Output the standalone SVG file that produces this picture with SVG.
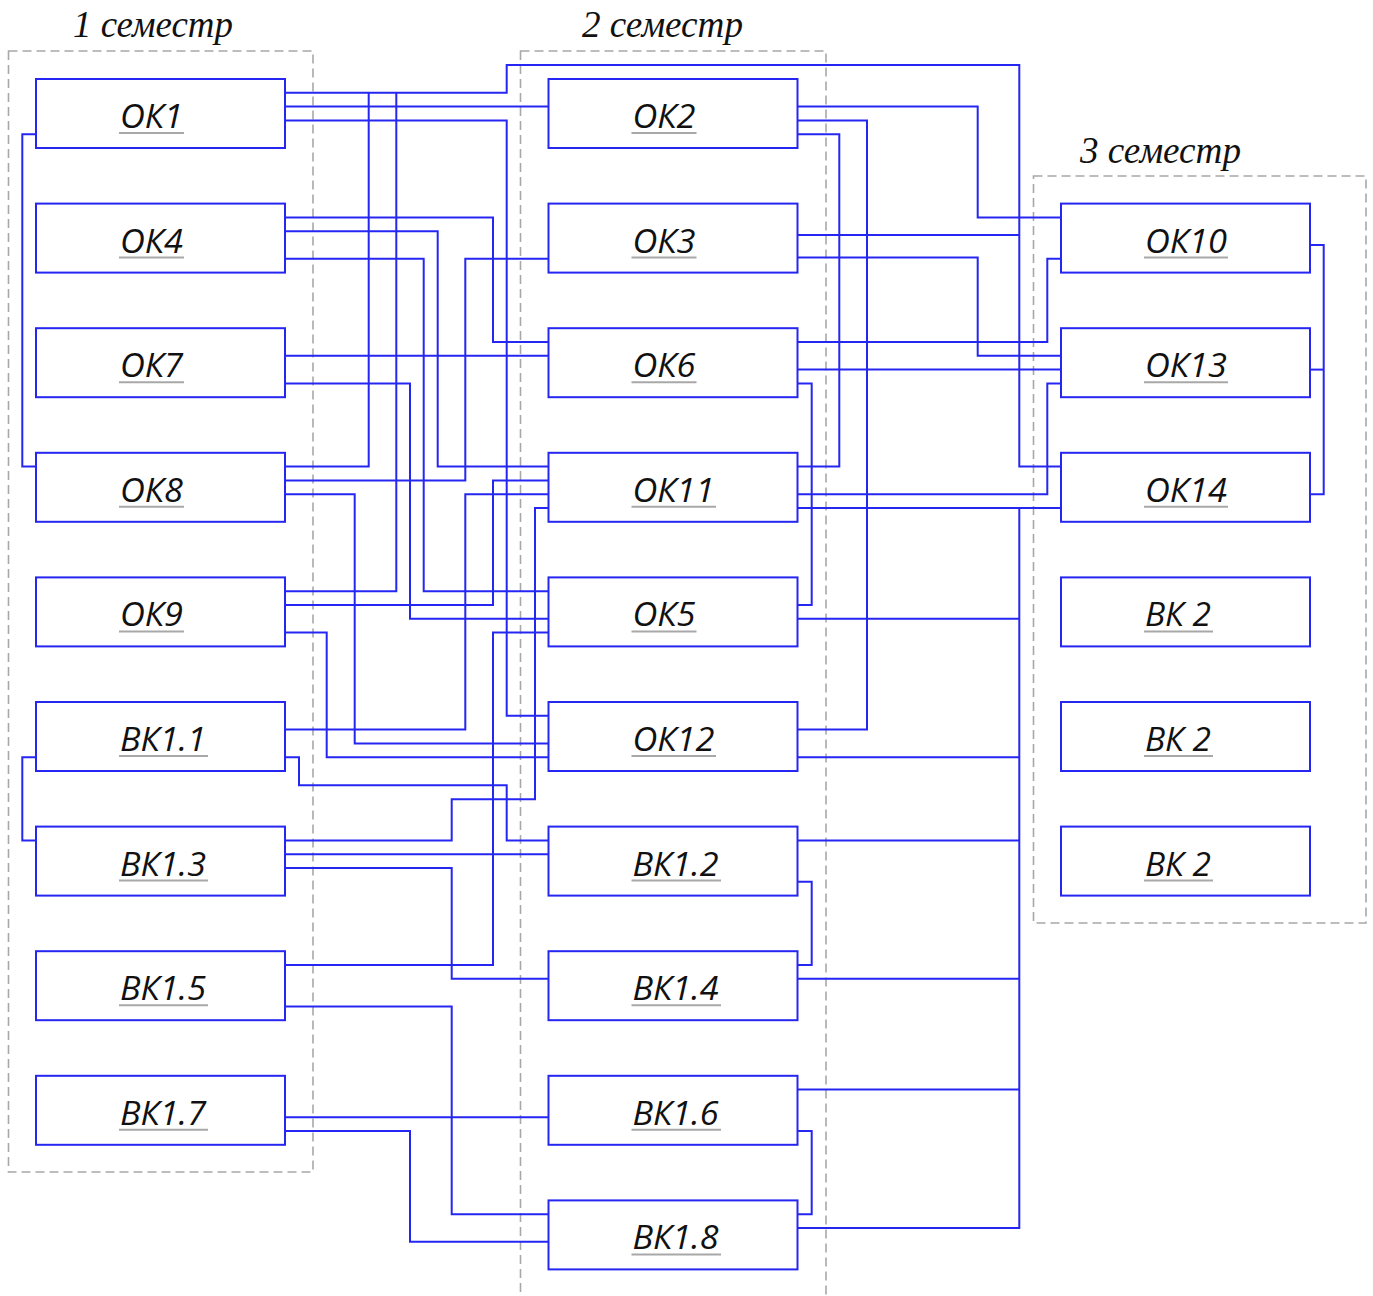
<svg xmlns="http://www.w3.org/2000/svg" width="1373" height="1296" viewBox="0 0 1373 1296">
<style>
.grp{fill:none;stroke:#a8a8a8;stroke-width:1.6;stroke-dasharray:9 5}
.ttl{font-family:"Liberation Serif",serif;font-style:italic;font-size:37px;fill:#111}
.box{fill:#fff;stroke:#2626f2;stroke-width:2}
.lbl{font-family:"Open Sans","Noto Sans",sans-serif;font-style:italic;font-size:32px;fill:#111}
.ul{stroke:#a8a8a8;stroke-width:2}
.wire{fill:none;stroke:#2626f2;stroke-width:2}
</style>
<rect fill="#fff" x="0" y="0" width="1373" height="1296"/>
<g id="groups">
<rect class="grp" x="8.5" y="51" width="304.5" height="1121"/>
<rect class="grp" x="520.5" y="51" width="305.5" height="1260"/>
<rect class="grp" x="1033.5" y="176" width="332.5" height="747"/>
<text class="ttl" x="73" y="37" textLength="160" lengthAdjust="spacingAndGlyphs">1 семестр</text>
<text class="ttl" x="582" y="37" textLength="161" lengthAdjust="spacingAndGlyphs">2 семестр</text>
<text class="ttl" x="1080" y="163" textLength="161" lengthAdjust="spacingAndGlyphs">3 семестр</text>
</g>
<g id="connectors" class="wire">
<path d="M36,134.2 H22.3 V466.6 H36"/>
<path d="M36,757.2 H22.3 V840.4 H36"/>
<path d="M285,92.8 H506.7 V65 H1019.3 V466.6 H1061"/>
<path d="M285,466.6 H368.7 V92.8"/>
<path d="M285,591.2 H396.3 V92.8"/>
<path d="M797.5,235 H1019.3"/>
<path d="M285,106.6 H548.5"/>
<path d="M285,120.4 H506.7 V715.8 H548.5"/>
<path d="M285,217.4 H493 V342 H548.5"/>
<path d="M285,231.2 H437.7 V466.6 H548.5"/>
<path d="M285,258.8 H423.7 V591.2 H548.5"/>
<path d="M285,355.8 H548.5"/>
<path d="M285,383.4 H410 V618.8 H548.5"/>
<path d="M285,480.4 H465.3 V258.8 H548.5"/>
<path d="M285,494.2 H354.7 V743.4 H548.5"/>
<path d="M285,605 H493 V480.4 H548.5"/>
<path d="M285,632.6 H326.7 V757.2 H548.5"/>
<path d="M285,729.6 H465.3 V494.2 H548.5"/>
<path d="M285,757.2 H299 V785.3 H506.7 V840.4 H548.5"/>
<path d="M285,840.4 H451.7 V799.3 H535 V508 H548.5"/>
<path d="M285,854.2 H548.5"/>
<path d="M285,868 H451.7 V978.8 H548.5"/>
<path d="M285,965 H493 V632.6 H548.5"/>
<path d="M285,1006.4 H451.7 V1214.2 H548.5"/>
<path d="M285,1117.2 H548.5"/>
<path d="M285,1131 H410 V1241.8 H548.5"/>
<path d="M797.5,106.6 H977.7 V217.4 H1061"/>
<path d="M797.5,120.4 H867 V729.6 H797.5"/>
<path d="M797.5,134.2 H839.3 V466.6 H797.5"/>
<path d="M797.5,257.5 H977.7 V355.8 H1061"/>
<path d="M797.5,342 H1047.3 V258.8 H1061"/>
<path d="M797.5,369.6 H1061"/>
<path d="M797.5,383.4 H811.7 V605 H797.5"/>
<path d="M797.5,494.2 H1047.3 V383.4 H1061"/>
<path d="M797.5,508 H1061"/>
<path d="M1019.3,508 V1228 H797.5"/>
<path d="M797.5,618.8 H1019.3"/>
<path d="M797.5,757.2 H1019.3"/>
<path d="M797.5,840.4 H1019.3"/>
<path d="M797.5,881.8 H811.7 V965 H797.5"/>
<path d="M797.5,978.8 H1019.3"/>
<path d="M797.5,1089.6 H1019.3"/>
<path d="M797.5,1131 H811.7 V1214.2 H797.5"/>
<path d="M1310,245 H1323.7 V494.2 H1310"/>
<path d="M1310,369.6 H1323.7"/>
</g>
<g id="ok1"><rect class="box" x="36" y="79" width="249" height="69"/><text class="lbl" x="120" y="128" textLength="63" lengthAdjust="spacingAndGlyphs">ОК1</text><line class="ul" x1="119" y1="133" x2="184" y2="133"/></g>
<g id="ok4"><rect class="box" x="36" y="203.6" width="249" height="69"/><text class="lbl" x="120" y="252.6" textLength="63" lengthAdjust="spacingAndGlyphs">ОК4</text><line class="ul" x1="119" y1="257.6" x2="184" y2="257.6"/></g>
<g id="ok7"><rect class="box" x="36" y="328.2" width="249" height="69"/><text class="lbl" x="120" y="377.2" textLength="63" lengthAdjust="spacingAndGlyphs">ОК7</text><line class="ul" x1="119" y1="382.2" x2="184" y2="382.2"/></g>
<g id="ok8"><rect class="box" x="36" y="452.8" width="249" height="69"/><text class="lbl" x="120" y="501.8" textLength="63" lengthAdjust="spacingAndGlyphs">ОК8</text><line class="ul" x1="119" y1="506.8" x2="184" y2="506.8"/></g>
<g id="ok9"><rect class="box" x="36" y="577.4" width="249" height="69"/><text class="lbl" x="120" y="626.4" textLength="63" lengthAdjust="spacingAndGlyphs">ОК9</text><line class="ul" x1="119" y1="631.4" x2="184" y2="631.4"/></g>
<g id="vk1_1"><rect class="box" x="36" y="702" width="249" height="69"/><text class="lbl" x="120" y="751" textLength="86" lengthAdjust="spacingAndGlyphs">ВК1.1</text><line class="ul" x1="119" y1="756" x2="208" y2="756"/></g>
<g id="vk1_3"><rect class="box" x="36" y="826.6" width="249" height="69"/><text class="lbl" x="120" y="875.6" textLength="86" lengthAdjust="spacingAndGlyphs">ВК1.3</text><line class="ul" x1="119" y1="880.6" x2="208" y2="880.6"/></g>
<g id="vk1_5"><rect class="box" x="36" y="951.2" width="249" height="69"/><text class="lbl" x="120" y="1000.2" textLength="86" lengthAdjust="spacingAndGlyphs">ВК1.5</text><line class="ul" x1="119" y1="1005.2" x2="208" y2="1005.2"/></g>
<g id="vk1_7"><rect class="box" x="36" y="1075.8" width="249" height="69"/><text class="lbl" x="120" y="1124.8" textLength="86" lengthAdjust="spacingAndGlyphs">ВК1.7</text><line class="ul" x1="119" y1="1129.8" x2="208" y2="1129.8"/></g>
<g id="ok2"><rect class="box" x="548.5" y="79" width="249" height="69"/><text class="lbl" x="632.5" y="128" textLength="63" lengthAdjust="spacingAndGlyphs">ОК2</text><line class="ul" x1="631.5" y1="133" x2="696.5" y2="133"/></g>
<g id="ok3"><rect class="box" x="548.5" y="203.6" width="249" height="69"/><text class="lbl" x="632.5" y="252.6" textLength="63" lengthAdjust="spacingAndGlyphs">ОК3</text><line class="ul" x1="631.5" y1="257.6" x2="696.5" y2="257.6"/></g>
<g id="ok6"><rect class="box" x="548.5" y="328.2" width="249" height="69"/><text class="lbl" x="632.5" y="377.2" textLength="63" lengthAdjust="spacingAndGlyphs">ОК6</text><line class="ul" x1="631.5" y1="382.2" x2="696.5" y2="382.2"/></g>
<g id="ok11"><rect class="box" x="548.5" y="452.8" width="249" height="69"/><text class="lbl" x="632.5" y="501.8" textLength="82" lengthAdjust="spacingAndGlyphs">ОК11</text><line class="ul" x1="631.5" y1="506.8" x2="716" y2="506.8"/></g>
<g id="ok5"><rect class="box" x="548.5" y="577.4" width="249" height="69"/><text class="lbl" x="632.5" y="626.4" textLength="63" lengthAdjust="spacingAndGlyphs">ОК5</text><line class="ul" x1="631.5" y1="631.4" x2="696.5" y2="631.4"/></g>
<g id="ok12"><rect class="box" x="548.5" y="702" width="249" height="69"/><text class="lbl" x="632.5" y="751" textLength="82" lengthAdjust="spacingAndGlyphs">ОК12</text><line class="ul" x1="631.5" y1="756" x2="716" y2="756"/></g>
<g id="vk1_2"><rect class="box" x="548.5" y="826.6" width="249" height="69"/><text class="lbl" x="632.5" y="875.6" textLength="86" lengthAdjust="spacingAndGlyphs">ВК1.2</text><line class="ul" x1="631.5" y1="880.6" x2="721" y2="880.6"/></g>
<g id="vk1_4"><rect class="box" x="548.5" y="951.2" width="249" height="69"/><text class="lbl" x="632.5" y="1000.2" textLength="86" lengthAdjust="spacingAndGlyphs">ВК1.4</text><line class="ul" x1="631.5" y1="1005.2" x2="721" y2="1005.2"/></g>
<g id="vk1_6"><rect class="box" x="548.5" y="1075.8" width="249" height="69"/><text class="lbl" x="632.5" y="1124.8" textLength="86" lengthAdjust="spacingAndGlyphs">ВК1.6</text><line class="ul" x1="631.5" y1="1129.8" x2="721" y2="1129.8"/></g>
<g id="vk1_8"><rect class="box" x="548.5" y="1200.4" width="249" height="69"/><text class="lbl" x="632.5" y="1249.4" textLength="86" lengthAdjust="spacingAndGlyphs">ВК1.8</text><line class="ul" x1="631.5" y1="1254.4" x2="721" y2="1254.4"/></g>
<g id="ok10"><rect class="box" x="1061" y="203.6" width="249" height="69"/><text class="lbl" x="1145" y="252.6" textLength="82" lengthAdjust="spacingAndGlyphs">ОК10</text><line class="ul" x1="1144" y1="257.6" x2="1228" y2="257.6"/></g>
<g id="ok13"><rect class="box" x="1061" y="328.2" width="249" height="69"/><text class="lbl" x="1145" y="377.2" textLength="82" lengthAdjust="spacingAndGlyphs">ОК13</text><line class="ul" x1="1144" y1="382.2" x2="1228" y2="382.2"/></g>
<g id="ok14"><rect class="box" x="1061" y="452.8" width="249" height="69"/><text class="lbl" x="1145" y="501.8" textLength="82" lengthAdjust="spacingAndGlyphs">ОК14</text><line class="ul" x1="1144" y1="506.8" x2="1228" y2="506.8"/></g>
<g id="vk2_a"><rect class="box" x="1061" y="577.4" width="249" height="69"/><text class="lbl" x="1145" y="626.4" textLength="66" lengthAdjust="spacingAndGlyphs">ВК 2</text><line class="ul" x1="1144" y1="631.4" x2="1213" y2="631.4"/></g>
<g id="vk2_b"><rect class="box" x="1061" y="702" width="249" height="69"/><text class="lbl" x="1145" y="751" textLength="66" lengthAdjust="spacingAndGlyphs">ВК 2</text><line class="ul" x1="1144" y1="756" x2="1213" y2="756"/></g>
<g id="vk2_c"><rect class="box" x="1061" y="826.6" width="249" height="69"/><text class="lbl" x="1145" y="875.6" textLength="66" lengthAdjust="spacingAndGlyphs">ВК 2</text><line class="ul" x1="1144" y1="880.6" x2="1213" y2="880.6"/></g>
</svg>
